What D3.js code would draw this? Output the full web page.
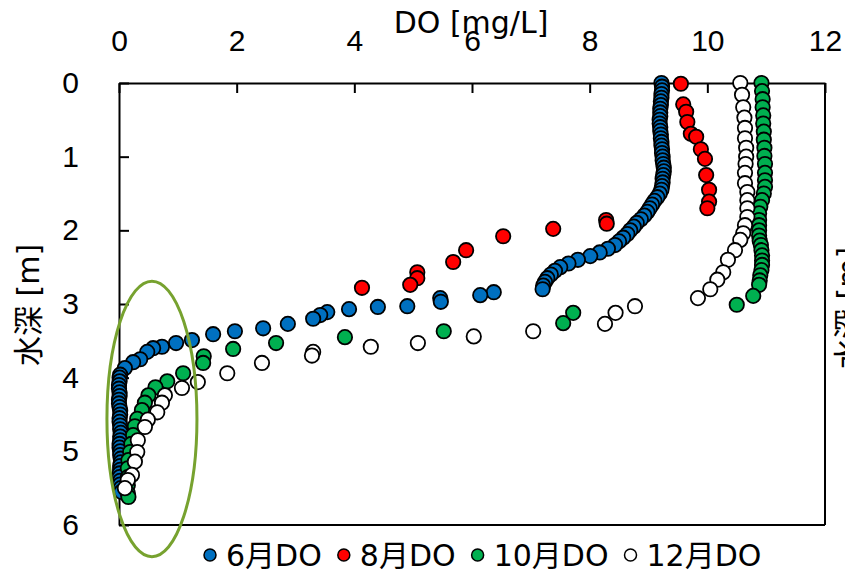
<!DOCTYPE html>
<html>
<head>
<meta charset="utf-8">
<script src="https://cdn.jsdelivr.net/npm/d3@7"></script>
<style>
  html, body { margin: 0; padding: 0; background: #fff; }
  svg { display: block; font-family: "DejaVu Sans", "Noto Sans CJK JP", sans-serif; }
  .axis text { font-size: 30px; fill: #000; }
  .axis path, .axis line { stroke: #000; stroke-width: 2; }
</style>
</head>
<body>
<svg id="chart" width="845" height="573"></svg>
<script>
// ---- data (depth in m, DO in mg/L) ----
const seriesNames = ["6月DO", "8月DO", "10月DO", "12月DO"];
const seriesColors = ["#0070C0", "#FF0000", "#00B050", "#FFFFFF"];

const juneDepth = [
  0.00, 0.05, 0.10, 0.15, 0.20, 0.25, 0.30, 0.35, 0.40, 0.45, 0.50, 0.55, 0.60, 0.65, 0.70,
  0.75, 0.80, 0.85, 0.90, 0.95, 1.00, 1.05, 1.10, 1.15, 1.20, 1.25, 1.30, 1.35, 1.40,
  1.45, 1.50, 1.55, 1.60, 1.65, 1.70, 1.75, 1.80, 1.85, 1.90, 1.95, 2.00, 2.05, 2.10,
  2.15, 2.20, 2.25, 2.30, 2.35, 2.40, 2.45, 2.50, 2.55, 2.60, 2.65, 2.70, 2.75, 2.80,
  2.84, 2.88, 2.92, 2.97, 3.03, 3.04, 3.07, 3.11, 3.15, 3.20, 3.27, 3.33, 3.37, 3.41,
  3.49, 3.53, 3.58, 3.60, 3.65, 3.75, 3.79, 3.87, 3.96,
  4.00, 4.05, 4.10, 4.15, 4.20, 4.25, 4.30, 4.35, 4.40, 4.45, 4.50, 4.55, 4.60, 4.65,
  4.70, 4.75, 4.80, 4.85, 4.90, 4.95, 5.00, 5.05, 5.10, 5.15, 5.20, 5.25, 5.30, 5.35,
  5.40, 5.45, 5.50, 5.55
];
const juneDO = [
  9.22, 9.23, 9.23, 9.22, 9.22, 9.21, 9.21, 9.20, 9.20, 9.20, 9.19, 9.19, 9.20, 9.20, 9.21,
  9.21, 9.22, 9.22, 9.23, 9.23, 9.24, 9.24, 9.25, 9.26, 9.26, 9.25, 9.24, 9.24, 9.23,
  9.22, 9.19, 9.15, 9.10, 9.06, 9.02, 8.98, 8.93, 8.87, 8.80, 8.75, 8.69, 8.64, 8.57,
  8.50, 8.43, 8.31, 8.17, 8.01, 7.80, 7.64, 7.50, 7.41, 7.34, 7.28, 7.24, 7.21, 7.20,
  6.37, 6.14, 5.46, 5.47, 4.90, 4.40, 3.91, 3.54, 3.42, 3.30, 2.87, 2.45, 1.97, 1.60,
  1.24, 0.97, 0.73, 0.58, 0.48, 0.36, 0.24, 0.10, 0.02,
  0.01, 0.01, 0.00, 0.00, 0.01, 0.01, 0.00, 0.00, 0.01, 0.02, 0.02, 0.01, 0.01, 0.02,
  0.02, 0.03, 0.02, 0.02, 0.01, 0.01, 0.02, 0.02, 0.03, 0.03, 0.02, 0.02, 0.01, 0.01,
  0.02, 0.02, 0.03, 0.04
];

const augDepth = [0.01, 0.29, 0.39, 0.53, 0.69, 0.73, 0.90, 1.03, 1.25, 1.45, 1.61, 1.70,
  1.86, 1.91, 1.98, 2.08, 2.27, 2.43, 2.57, 2.65, 2.74, 2.78];
const augDO = [9.55, 9.59, 9.64, 9.66, 9.72, 9.81, 9.89, 9.96, 9.98, 10.03, 10.03, 10.00,
  8.28, 8.29, 7.38, 6.53, 5.90, 5.68, 5.07, 5.07, 4.95, 4.13];

const octDepth = [
  0.00, 0.11, 0.22, 0.33, 0.44, 0.55, 0.66, 0.77, 0.88, 0.99, 1.10, 1.22, 1.32, 1.41,
  1.50, 1.59, 1.68, 1.77, 1.86, 1.93, 2.00, 2.07, 2.14, 2.20, 2.27, 2.34, 2.41, 2.47,
  2.54, 2.61, 2.68, 2.74, 2.89, 3.01,
  3.12, 3.26, 3.37, 3.45, 3.53, 3.61, 3.71, 3.80, 3.94, 4.05, 4.13, 4.24, 4.34, 4.44,
  4.56, 4.66, 4.78, 4.90, 5.01, 5.12, 5.23, 5.35, 5.46, 5.57, 5.62
];
const octDO = [
  10.92, 10.93, 10.94, 10.94, 10.95, 10.95, 10.96, 10.96, 10.97, 10.97, 10.98, 10.98, 10.98, 10.98,
  10.96, 10.93, 10.90, 10.88, 10.88, 10.88, 10.88, 10.88, 10.89, 10.91, 10.92, 10.93, 10.93, 10.93,
  10.92, 10.90, 10.89, 10.88, 10.78, 10.50,
  7.72, 7.55, 5.52, 3.84, 2.67, 1.94, 1.44, 1.43, 1.09, 0.82, 0.62, 0.50, 0.44, 0.39,
  0.31, 0.27, 0.24, 0.21, 0.19, 0.16, 0.15, 0.15, 0.15, 0.15, 0.16
];

const decDepth = [
  0.00, 0.16, 0.33, 0.47, 0.61, 0.75, 0.88, 1.00, 1.10, 1.22, 1.36, 1.48, 1.59, 1.70,
  1.82, 1.93, 2.04, 2.13, 2.27, 2.40, 2.57, 2.67, 2.80, 2.92,
  3.03, 3.12, 3.27, 3.37, 3.44, 3.53, 3.58, 3.65, 3.70, 3.80, 3.94, 4.06, 4.14, 4.24,
  4.34, 4.47, 4.57, 4.67, 4.85, 5.01, 5.14, 5.32, 5.39, 5.50
];
const decDO = [
  10.56, 10.59, 10.61, 10.63, 10.64, 10.64, 10.66, 10.66, 10.65, 10.64, 10.64, 10.68, 10.68, 10.68,
  10.68, 10.64, 10.61, 10.56, 10.47, 10.35, 10.27, 10.17, 10.05, 9.84,
  8.77, 8.44, 8.26, 7.04, 6.03, 5.08, 4.28, 3.30, 3.28, 2.43, 1.84, 1.34, 1.07, 0.78,
  0.73, 0.65, 0.49, 0.44, 0.32, 0.31, 0.27, 0.22, 0.15, 0.10
];

const xTicks = [0, 2, 4, 6, 8, 10, 12];
const yTicks = [0, 1, 2, 3, 4, 5, 6];

// annotation ellipse: [centre DO, centre depth, half-width DO, half-height depth]
const ellipseData = [0.56, 4.56, 0.765, 1.87];

const series = [
  { name: seriesNames[0], color: seriesColors[0], depth: juneDepth, value: juneDO },
  { name: seriesNames[1], color: seriesColors[1], depth: augDepth, value: augDO },
  { name: seriesNames[2], color: seriesColors[2], depth: octDepth, value: octDO },
  { name: seriesNames[3], color: seriesColors[3], depth: decDepth, value: decDO }
];

// ---- layout ----
const svg = d3.select("#chart");
const plot = { left: 119, right: 825, top: 83, bottom: 525 };

const x = d3.scaleLinear().domain([0, 12]).range([plot.left, plot.right]);
const y = d3.scaleLinear().domain([0, 6]).range([plot.top, plot.bottom]);

// frame (bottom and right edges)
svg.append("line")
  .attr("x1", x(0)).attr("x2", x(12)).attr("y1", y(6)).attr("y2", y(6))
  .attr("stroke", "#000").attr("stroke-width", 2);
svg.append("line")
  .attr("x1", x(12)).attr("x2", x(12)).attr("y1", y(0)).attr("y2", y(6))
  .attr("stroke", "#000").attr("stroke-width", 2);

svg.append("g")
  .attr("class", "axis")
  .attr("transform", `translate(0,${y(0)})`)
  .call(d3.axisTop(x).tickValues(xTicks).tickFormat(d3.format("d"))
    .tickSizeInner(-10).tickSizeOuter(0).tickPadding(32));

svg.append("g")
  .attr("class", "axis")
  .attr("transform", `translate(${x(0)},0)`)
  .call(d3.axisLeft(y).tickValues(yTicks).tickFormat(d3.format("d"))
    .tickSizeInner(-10).tickSizeOuter(0).tickPadding(40));

// axis titles
svg.append("text")
  .attr("x", 471).attr("y", 33)
  .attr("text-anchor", "middle")
  .attr("font-size", 30)
  .text("DO [mg/L]");

svg.append("text")
  .attr("transform", "translate(28,305) rotate(-90)")
  .attr("text-anchor", "middle")
  .attr("dy", "0.35em")
  .attr("font-size", 30)
  .text("水深 [m]");

// secondary axis title, cut off at the right edge
svg.append("text")
  .attr("transform", "translate(848,308) rotate(-90)")
  .attr("text-anchor", "middle")
  .attr("dy", "0.35em")
  .attr("font-size", 30)
  .text("水深 [m]");

// markers
const g = svg.append("g");
series.forEach(s => {
  g.append("g")
    .selectAll("circle")
    .data(s.depth.map((d, i) => ({ depth: d, value: s.value[i] })))
    .join("circle")
    .attr("cx", d => x(d.value))
    .attr("cy", d => y(d.depth))
    .attr("r", 7.2)
    .attr("fill", s.color)
    .attr("stroke", "#000")
    .attr("stroke-width", 1.8);
});

// ellipse annotation
svg.append("ellipse")
  .attr("cx", x(ellipseData[0]))
  .attr("cy", y(ellipseData[1]))
  .attr("rx", x(ellipseData[2]) - x(0))
  .attr("ry", y(ellipseData[3]) - y(0))
  .attr("fill", "none")
  .attr("stroke", "#77A22F")
  .attr("stroke-width", 3);

// legend
const legend = svg.append("g").attr("transform", "translate(210,555)");
let lx = 0;
series.forEach(s => {
  const item = legend.append("g").attr("transform", `translate(${lx},0)`);
  item.append("circle")
    .attr("r", 6)
    .attr("fill", s.color)
    .attr("stroke", "#000")
    .attr("stroke-width", 1.5);
  const t = item.append("text")
    .attr("x", 16)
    .attr("y", 11)
    .attr("font-size", 30)
    .text(s.name);
  lx += 16 + t.node().getComputedTextLength() + 22;
});
</script>
</body>
</html>
